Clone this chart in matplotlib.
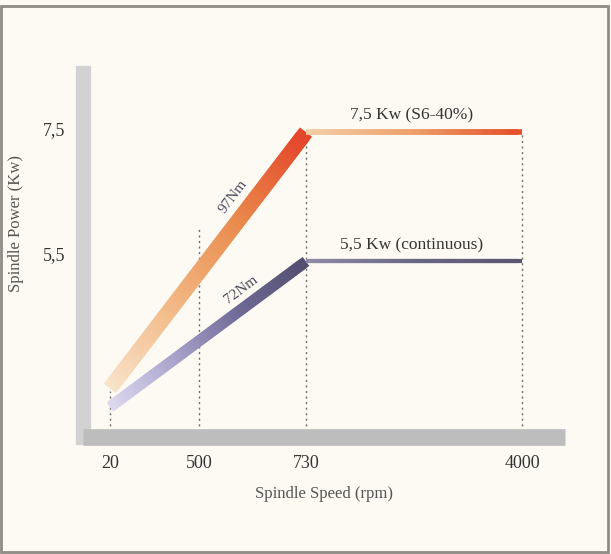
"""
Spindle power curve: power (Kw) against spindle speed (rpm),
S6-40% rating and continuous rating.
"""

import numpy as np
import matplotlib.pyplot as plt
from matplotlib.collections import LineCollection
from matplotlib.colors import LinearSegmentedColormap
from matplotlib.patches import Rectangle

# --- Data ---
SPEED_TICKS = [20, 500, 730, 4000]
POWER_TICKS = [5.5, 7.5]
POWER_TICK_LABELS = ["5,5", "7,5"]

S6_SPEED = [20, 730, 4000]
S6_POWER = [3.35, 7.45, 7.45]
CONT_SPEED = [20, 730, 4000]
CONT_POWER = [3.05, 5.38, 5.38]

# dotted guides: speed and the height where each guide stops
GUIDE_SPEED = [20, 500, 730, 4000]
GUIDE_TOP = [3.3, 5.95, 7.45, 7.45]

BG = "#fdfaf3"
SERIF = "Liberation Serif"

# the speed axis is not linear: each tick has its own spacing
AXIS_SPEED = [0, 20, 500, 730, 4000, 4200]
AXIS_POS = [83, 110, 199, 306, 522, 565]


def fwd(x):
    return np.interp(x, AXIS_SPEED, AXIS_POS)


def inv(p):
    return np.interp(p, AXIS_POS, AXIS_SPEED)


def gradient_line(ax, x0, y0, x1, y1, colors, lw, n=60):
    # split the segment in small steps so it can change colour along the way;
    # every piece spans two steps so neighbours overlap and no seams show
    px0, px1 = fwd(x0), fwd(x1)
    t = np.linspace(0, 1, n + 1)
    xs = inv(px0 + (px1 - px0) * t)
    ys = y0 + (y1 - y0) * t
    pts = np.column_stack([xs, ys])
    segs = [pts[i:i + 3] for i in range(n - 1)]
    cmap = LinearSegmentedColormap.from_list("g", colors)
    lc = LineCollection(segs, colors=cmap(np.linspace(0, 1, n - 1)),
                        linewidths=lw, capstyle="butt", zorder=4)
    ax.add_collection(lc)


def main():
    fig = plt.figure(figsize=(6.11, 5.54), dpi=100, facecolor=BG)
    ax = fig.add_axes([83 / 611, 1 - 437 / 554, (565 - 83) / 611, (437 - 73) / 554])
    ax.set_facecolor(BG)

    ax.set_xscale("function", functions=(fwd, inv))
    ax.set_xlim(0, 4200)
    ax.set_ylim(2.57, 8.396)

    # dotted guide lines
    for s, top in zip(GUIDE_SPEED, GUIDE_TOP):
        ax.plot([s, s], [2.57, top], color="#6e6e6e", lw=1.0,
                ls=(0, (1.5, 2.5)), zorder=2)

    # rising parts (constant torque) with colour gradient
    gradient_line(ax, S6_SPEED[0], S6_POWER[0], S6_SPEED[1], S6_POWER[1],
                  ["#f8e2c8", "#f2b783", "#e98a4c", "#e4472b"], 11)
    gradient_line(ax, CONT_SPEED[0], CONT_POWER[0], CONT_SPEED[1], CONT_POWER[1],
                  ["#dcd8ee", "#a9a3cc", "#6f6a96", "#555072"], 8)

    # flat parts (constant power)
    gradient_line(ax, S6_SPEED[1], S6_POWER[1], S6_SPEED[2], S6_POWER[2],
                  ["#f4cfa8", "#eea06a", "#e4502c"], 4)
    gradient_line(ax, CONT_SPEED[1], CONT_POWER[1], CONT_SPEED[2], CONT_POWER[2],
                  ["#8e8aa8", "#6a6686", "#5a5670"], 3)

    # labels on the curves
    ax.text(2330, 7.72, "7,5 Kw (S6-40%)", fontsize=12.5, family=SERIF,
            color="#333333", ha="center", va="center")
    ax.text(2330, 5.63, "5,5 Kw (continuous)", fontsize=12.5, family=SERIF,
            color="#333333", ha="center", va="center")
    ax.text(573, 6.41, "97Nm", fontsize=11, family=SERIF, color="#4a4a5a",
            rotation=53, ha="center", va="center", zorder=6)
    ax.text(590, 4.92, "72Nm", fontsize=11, family=SERIF, color="#4a4a5a",
            rotation=37, ha="center", va="center", zorder=6)

    # ruler-like grey axes
    for side in ["top", "right"]:
        ax.spines[side].set_visible(False)
    ax.spines["left"].set_color("#d2d2d2")
    ax.spines["left"].set_linewidth(11)
    ax.spines["left"].set_capstyle("projecting")
    ax.spines["bottom"].set_color("#bdbdbd")
    ax.spines["bottom"].set_linewidth(12)
    ax.spines["bottom"].set_capstyle("butt")
    ax.spines["bottom"].set_zorder(3)

    ax.set_xticks(SPEED_TICKS)
    ax.set_xticklabels([str(s) for s in SPEED_TICKS])
    ax.set_yticks(POWER_TICKS)
    ax.set_yticklabels(POWER_TICK_LABELS)
    ax.tick_params(length=0, labelsize=13, colors="#333333", pad=13)
    for lab in ax.get_xticklabels() + ax.get_yticklabels():
        lab.set_family(SERIF)

    ax.set_xlabel("Spindle Speed (rpm)", fontsize=12, family=SERIF,
                  color="#555555", labelpad=10)
    # the y label sits higher than the middle of the axis
    fig.text(16 / 611, 1 - 224 / 554, "Spindle Power (Kw)", fontsize=12,
             family=SERIF, color="#555555", rotation=90,
             ha="center", va="center")

    # thin frame around the whole picture
    fig.patches.append(Rectangle((1 / 611, 2 / 554), 607 / 611, 546 / 554,
                                 transform=fig.transFigure, fill=False,
                                 edgecolor="#8f8c85", lw=2))

    fig.savefig("out.png", dpi=100, facecolor=BG)


if __name__ == "__main__":
    main()
